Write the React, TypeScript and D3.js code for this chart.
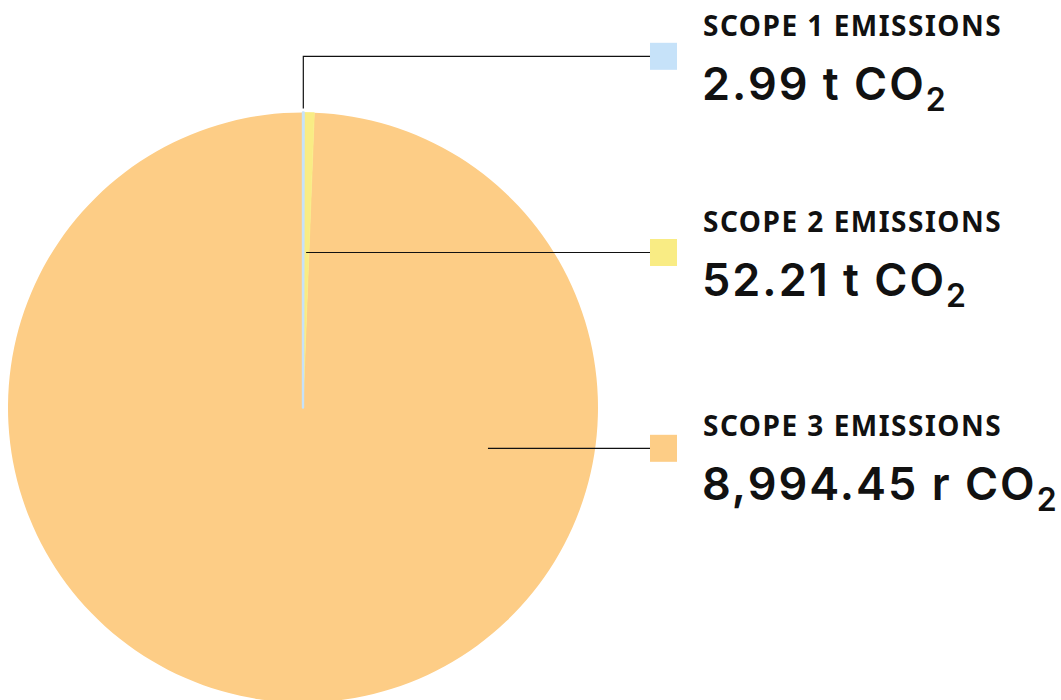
import React, { useEffect, useRef } from 'react';
import * as d3 from 'd3';

const categories = ['SCOPE 1 EMISSIONS', 'SCOPE 2 EMISSIONS', 'SCOPE 3 EMISSIONS'];
const values = [2.99, 52.21, 8994.45];
const valueLabels = ['2.99', '52.21', '8,994.45'];
const units = ['t', 't', 'r'];
const colors = ['#c6e2f9', '#f9ec84', '#fdcd86'];

// layout
const width = 1061;
const height = 700;
const cx = 303;
const cy = 407.5;
const radius = 295;
const boxX = 650;
const boxSize = 27;
const boxY = [56.3, 252.5, 448.3];
const labelY = [36, 231.7, 436];
const textX = 703;

const App = () => {
  const svgRef = useRef<SVGSVGElement>(null);

  useEffect(() => {
    const svg = d3.select(svgRef.current);
    svg.selectAll('*').remove();

    const pie = d3.pie<number>().sort(null).value(d => d);
    const arcs = pie(values);
    const arc = d3.arc<d3.PieArcDatum<number>>().innerRadius(0).outerRadius(radius);

    const g = svg.append('g').attr('transform', `translate(${cx},${cy})`);
    // draw the big slice first so the thin ones sit on top
    const order = [2, 1, 0];
    g.selectAll('path')
      .data(order.map(i => arcs[i]))
      .join('path')
      .attr('d', arc)
      .attr('fill', d => colors[d.index])
      .attr('stroke', d => (d.index === 2 ? 'none' : colors[d.index]))
      .attr('stroke-width', d => (d.index === 0 ? 2.4 : 0.8))
      .attr('stroke-linejoin', 'round');

    // leader lines
    const mid = (d: d3.PieArcDatum<number>) => (d.startAngle + d.endAngle) / 2;
    const lines = svg.append('g').attr('stroke', '#111').attr('stroke-width', 1.2).attr('fill', 'none');

    const p1 = d3.pointRadial(mid(arcs[0]), radius + 4);
    lines.append('path')
      .attr('d', `M${cx + p1[0]},${cy + p1[1]}V${boxY[0]}H${boxX}`);

    const p2 = d3.pointRadial(mid(arcs[1]), radius * 0.526);
    lines.append('path')
      .attr('d', `M${cx + p2[0]},${boxY[1]}H${boxX}`);

    lines.append('path')
      .attr('d', `M${cx + radius * 0.627},${boxY[2]}H${boxX}`);

    // legend
    const leg = svg.append('g');
    categories.forEach((c, i) => {
      leg.append('rect')
        .attr('x', boxX)
        .attr('y', boxY[i] - boxSize / 2)
        .attr('width', boxSize)
        .attr('height', boxSize)
        .attr('fill', colors[i]);

      leg.append('text')
        .attr('x', textX)
        .attr('y', labelY[i])
        .attr('font-family', '"Noto Sans", sans-serif')
        .attr('font-weight', 700)
        .attr('font-size', 28)
        .attr('letter-spacing', 1.5)
        .attr('fill', '#111')
        .text(c);

      const t = leg.append('text')
        .attr('x', textX - 1)
        .attr('y', labelY[i] + 64)
        .attr('font-family', 'Inter, sans-serif')
        .attr('font-weight', 600)
        .attr('font-size', 45)
        .attr('letter-spacing', 2)
        .attr('fill', '#111');
      t.append('tspan').text(`${valueLabels[i]} ${units[i]} CO`);
      t.append('tspan')
        .attr('font-size', 32)
        .attr('dy', 11)
        .text('2');
    });
  }, []);

  return (
    <svg
      ref={svgRef}
      width={width}
      height={height}
      style={{ position: 'absolute', left: 0, top: 0, background: '#fff' }}
    />
  );
};

export default App;
